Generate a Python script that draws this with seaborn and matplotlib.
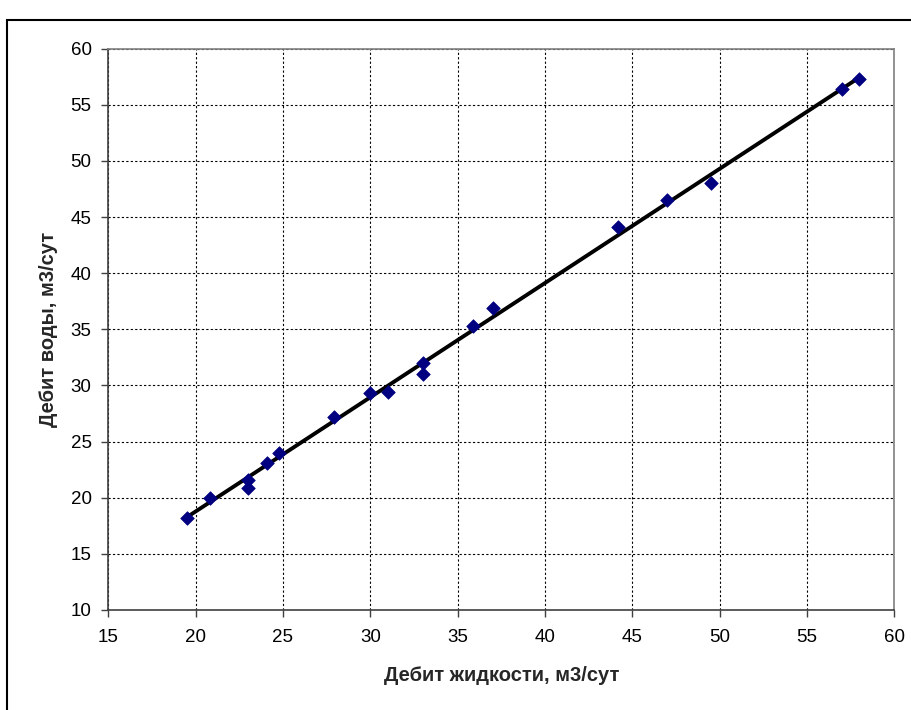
import matplotlib
matplotlib.use("Agg")
import matplotlib.pyplot as plt
import seaborn as sns
import pandas as pd
from matplotlib.patches import Rectangle

liquid_rate = [19.5, 20.8, 23.0, 23.0, 24.1, 24.8, 27.9, 30.0, 31.0, 33.0, 33.0,
               35.9, 37.0, 44.2, 47.0, 49.5, 57.0, 58.0]
water_rate = [18.2, 20.0, 21.6, 20.9, 23.1, 24.0, 27.2, 29.3, 29.4, 32.0, 31.0,
              35.3, 36.9, 44.1, 46.5, 48.0, 56.4, 57.3]
x_ticks = [15, 20, 25, 30, 35, 40, 45, 50, 55, 60]
y_ticks = [10, 15, 20, 25, 30, 35, 40, 45, 50, 55, 60]
x_label = "Дебит жидкости, м3/сут"
y_label = "Дебит воды, м3/сут"

df = pd.DataFrame({"x": liquid_rate, "y": water_rate})

sns.set_style("white")
plt.rcParams['font.family'] = ['Liberation Sans', 'DejaVu Sans']

fig = plt.figure(figsize=(9.12, 7.10), dpi=100)
ax = fig.add_axes([108.3/912, 1 - 610/710, (894.3-108.3)/912, (610-48.7)/710])

sns.regplot(data=df, x="x", y="y", ax=ax, scatter=False, ci=None, truncate=True,
            line_kws=dict(color="black", lw=2.8, zorder=3))
sns.scatterplot(data=df, x="x", y="y", ax=ax, marker="D", s=48, color="#000080",
                edgecolor="#000080", linewidth=0.5, zorder=4)

ax.set_xlim(15, 60)
ax.set_ylim(10, 60)
ax.set_xticks(x_ticks)
ax.set_yticks(y_ticks)
ax.grid(True, color="black", linestyle=(0, (2, 2)), linewidth=0.8)
ax.set_axisbelow(True)

for s in ["top", "right"]:
    ax.spines[s].set_color("#808080")
    ax.spines[s].set_linewidth(1.2)
for s in ["left", "bottom"]:
    ax.spines[s].set_color("#404040")
    ax.spines[s].set_linewidth(1.2)

ax.tick_params(axis="both", direction="out", length=5, width=1, color="#404040",
               labelsize=13.5, labelcolor="black", bottom=True, left=True)
ax.tick_params(axis="x", pad=9)
ax.tick_params(axis="y", pad=7)

ax.set_xlabel(x_label, fontsize=14.5, fontweight="bold", labelpad=14)
ax.set_ylabel(y_label, fontsize=14.5, fontweight="bold", labelpad=9)

fig.patches.append(Rectangle((7/912, -0.1), 1.2, 1 - 20/710 + 0.1, transform=fig.transFigure,
                             fill=False, edgecolor="black", linewidth=1.5))

fig.savefig("out.png", dpi=100)
